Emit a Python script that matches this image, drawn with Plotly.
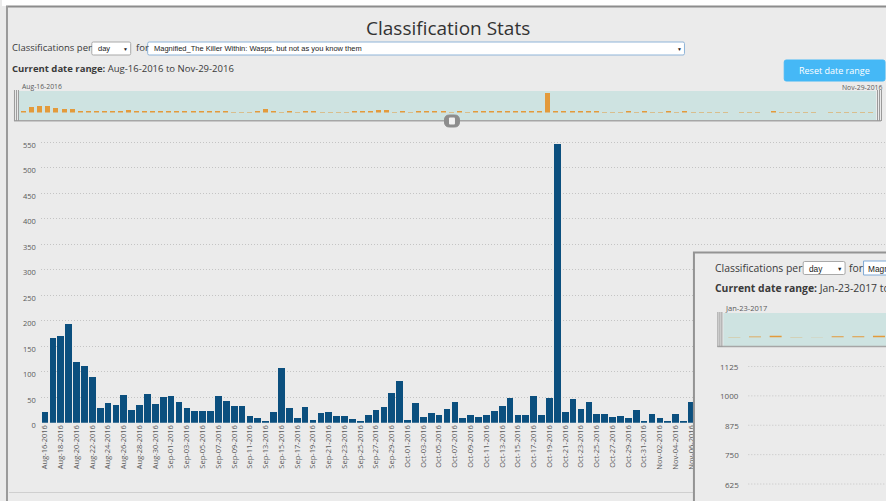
import pandas as pd
import plotly.graph_objects as go

W, H = 886, 501          # reference picture size (layout coordinates below)
FIG_H = 509              # page height that ends up shown as 501 px

# ---------------- data ----------------
start_date = "2016-08-16"
end_date = "2016-11-29"
dates = pd.date_range(start_date, end_date, freq="D")
counts = [
    21, 167, 171, 193, 120, 111, 90, 29, 39, 34, 54, 26, 35, 57, 36, 51,          # Aug 16-31
    53, 40, 29, 24, 24, 24, 53, 42, 32, 33, 13, 10, 4, 22, 108, 29, 9, 31, 6, 20,   # Sep 01-20
    21, 14, 14, 8, 3, 16, 25, 30, 59, 81,                                         # Sep 21-30
    6, 39, 12, 20, 16, 27, 40, 10, 15, 11, 15, 23, 32, 49, 15, 16, 53, 16, 48,     # Oct 01-19
    546, 22, 46, 27, 40, 17, 17, 11, 14, 10, 25, 4,                               # Oct 20-31
    17, 10, 4, 18, 3, 40, 8, 12, 6, 9, 5, 0, 7, 10, 11, 0, 22, 14, 6, 9, 8, 5,    # Nov 01-22
    0, 7, 6, 4, 2, 2, 3,                                                          # Nov 23-29
]
y_ticks = list(range(0, 551, 50))

# overlapping second panel (another project's stats)
overlay_ticks = [625, 750, 875, 1000, 1125]
overlay_dates = pd.date_range("2017-01-23", periods=8, freq="D")
overlay_counts = [2, 3, 6, 2, 1, 4, 4, 6]

title_text = "Classification Stats"
per_label = "Classifications per"
period_choice = "day"
project_choice = "Magnified_The Killer Within: Wasps, but not as you know them"
range_text = "<b>Current date range:</b> Aug-16-2016 to Nov-29-2016"
reset_label = "Reset date range"
nav_left_label = "Aug-16-2016"
nav_right_label = "Nov-29-2016"
ov_range_text = "<b>Current date range:</b> Jan-23-2017 to"
ov_nav_label = "Jan-23-2017"

# ---------------- style ----------------
BG = "#ebebeb"
BAR = "#0b4f7e"
ORANGE = "#e39a3b"
TEAL = "#cee3e1"
GRID = "#c4c4c4"
TXT = "#3a3a3a"
TICK = "#5a5a5a"
UI_FONT = "Open Sans"
DD_FONT = "Liberation Sans"
DOTS = "1px,2px"


def px(x):
    return x / W


def py(y):
    return 1 - y / H


def shift(base, days):
    return (pd.Timestamp(base) + pd.Timedelta(days=days)).strftime("%Y-%m-%d %H:%M:%S")


def rounded_path(x0, y0, x1, y1, r):
    """Rounded rectangle path in paper units (pixel inputs)."""
    pts = [
        f"M{px(x0 + r)},{py(y0)}", f"L{px(x1 - r)},{py(y0)}",
        f"Q{px(x1)},{py(y0)} {px(x1)},{py(y0 + r)}", f"L{px(x1)},{py(y1 - r)}",
        f"Q{px(x1)},{py(y1)} {px(x1 - r)},{py(y1)}", f"L{px(x0 + r)},{py(y1)}",
        f"Q{px(x0)},{py(y1)} {px(x0)},{py(y1 - r)}", f"L{px(x0)},{py(y0 + r)}",
        f"Q{px(x0)},{py(y0)} {px(x0 + r)},{py(y0)}", "Z",
    ]
    return " ".join(pts)


DAY_MS = 86400000

fig = go.Figure()
fig.add_trace(go.Bar(x=dates, y=counts, xaxis="x", yaxis="y",
                     marker=dict(color=BAR, line=dict(width=0)),
                     width=0.85 * DAY_MS, hoverinfo="x+y"))
fig.add_trace(go.Bar(x=dates, y=counts, xaxis="x3", yaxis="y3",
                     marker=dict(color=ORANGE, line=dict(width=0)),
                     width=0.62 * DAY_MS, hoverinfo="skip"))

shapes = []
annotations = []


def rect(x0, y0, x1, y1, fill, line=None, lw=0, layer="below"):
    shapes.append(dict(type="rect", xref="paper", yref="paper",
                       x0=px(x0), x1=px(x1), y0=py(y1), y1=py(y0),
                       fillcolor=fill, layer=layer,
                       line=dict(color=line or fill, width=lw)))


def rrect(x0, y0, x1, y1, r, fill, line=None, lw=0, layer="below"):
    shapes.append(dict(type="path", xref="paper", yref="paper",
                       path=rounded_path(x0, y0, x1, y1, r),
                       fillcolor=fill, layer=layer,
                       line=dict(color=line or fill, width=lw)))


def hline(x0, x1, y, color, lw=1, dash="solid", layer="below"):
    shapes.append(dict(type="line", xref="paper", yref="paper",
                       x0=px(x0), x1=px(x1), y0=py(y), y1=py(y), layer=layer,
                       line=dict(color=color, width=lw, dash=dash)))


def vline(x, y0, y1, color, lw=1, layer="below"):
    shapes.append(dict(type="line", xref="paper", yref="paper",
                       x0=px(x), x1=px(x), y0=py(y0), y1=py(y1), layer=layer,
                       line=dict(color=color, width=lw)))


def text(x, y, s, size, color=TXT, anchor="left", family=UI_FONT):
    annotations.append(dict(x=px(x), y=py(y), xref="paper", yref="paper", text=s,
                            showarrow=False, xanchor=anchor, yanchor="middle",
                            font=dict(size=size, color=color, family=family)))


# page frame
rect(0, 0, W, 6, "#ffffff")
hline(4, W, 6.5, "#8c8c8c", 2)
vline(5, 6, H + 5, "#9a9a9a", 2)
hline(7, W, 492.5, "#cfcfcf", 1)

# header controls
text(447, 28, title_text, 19, "#333333", "center")
text(8, 48, per_label, 9.5)
rrect(90, 42, 129, 55, 1.5, "#ffffff", "#a9a9a9", 1)
text(94, 48.5, period_choice, 7.5, "#222222", family=DD_FONT)
text(124, 48.5, "▼", 5, "#222222", "center", DD_FONT)
text(132, 48, "for", 9.5)
rrect(146, 42, 684, 55, 1.5, "#ffffff", "#8fb4d8", 1)
text(150, 48.5, project_choice, 7.5, "#222222", family=DD_FONT)
text(679, 48.5, "▼", 5, "#222222", "center", DD_FONT)
text(8, 68, range_text, 9.5)
rrect(784, 60, 885, 81, 2, "#45b8f6", "#45b8f6", 1)
text(834.5, 70.5, reset_label, 9, "#ffffff", "center")

# navigator frame
text(18, 86.5, nav_left_label, 6.8, TICK)
text(884, 87, nav_right_label, 6.8, TICK, "right")
rect(17, 91, 876, 120, TEAL)
hline(12, 881, 120.8, "#a6a6a6", 1.5)
for xx in (12.5, 14.5, 16.5):
    vline(xx, 90, 121, "#9a9a9a", 1)
for xx in (877.5, 879.5, 881.5):
    vline(xx, 90, 121, "#9a9a9a", 1)
rrect(443.5, 115, 458.5, 127, 5, "#8d8d8d", "#8d8d8d", 1, layer="above")
rrect(448, 117.5, 454, 124.5, 1, "#f2f2f2", "#f2f2f2", 0, layer="above")

# ---------------- overlapping second panel ----------------
OX, OY = 693.5, 252.5
shapes.append(dict(type="rect", xref="paper", yref="paper", layer="above",
                   x0=px(OX), x1=px(W + 10), y0=py(H + 10), y1=py(OY),
                   fillcolor=BG, line=dict(color="#939393", width=2)))
# overlay navigator
shapes.append(dict(type="rect", xref="paper", yref="paper", layer="above",
                   x0=px(723), x1=px(W + 5), y0=py(346), y1=py(313),
                   fillcolor=TEAL, line=dict(width=0)))
shapes.append(dict(type="line", xref="paper", yref="paper", layer="above",
                   x0=px(717), x1=px(W + 5), y0=py(346.5), y1=py(346.5),
                   line=dict(color="#a6a6a6", width=1.5)))
for xx in (717.5, 719.5, 721.5):
    shapes.append(dict(type="line", xref="paper", yref="paper", layer="above",
                       x0=px(xx), x1=px(xx), y0=py(347), y1=py(312),
                       line=dict(color="#9a9a9a", width=1)))
for d, v in zip(overlay_dates, overlay_counts):
    shapes.append(dict(type="rect", xref="x4", yref="y4", layer="above",
                       x0=shift(d, -0.29), x1=shift(d, 0.29), y0=0, y1=v,
                       fillcolor=ORANGE, line=dict(width=0)))
# overlay gridlines + labels on its own value axis
for t in overlay_ticks:
    shapes.append(dict(type="line", xref="paper", yref="y2", layer="above",
                       x0=px(748), x1=1, y0=t, y1=t,
                       line=dict(color=GRID, width=1, dash=DOTS)))
    annotations.append(dict(x=px(741), y=t, xref="paper", yref="y2", text=str(t),
                            showarrow=False, xanchor="right", yanchor="middle",
                            font=dict(size=8, color=TICK, family=UI_FONT)))
# overlay controls
shapes.append(dict(type="path", xref="paper", yref="paper", layer="above",
                   path=rounded_path(803, 261.5, 845, 274.5, 1.5),
                   fillcolor="#ffffff", line=dict(color="#a9a9a9", width=1)))
shapes.append(dict(type="rect", xref="paper", yref="paper", layer="above",
                   x0=px(863.5), x1=px(W + 10), y0=py(275), y1=py(261),
                   fillcolor="#ffffff", line=dict(color="#7fa9d6", width=1)))
text(713, 268, per_label, 10.4)
text(807, 268.5, period_choice, 8.3, "#222222", family=DD_FONT)
text(839, 268.5, "▼", 5.5, "#222222", "center", DD_FONT)
text(847, 268, "for", 10.4)
text(866, 268.5, project_choice, 8.3, "#222222", family=DD_FONT)
text(713, 287.5, ov_range_text, 10.4)
text(723, 308, ov_nav_label, 7.5, TICK)

fig.update_layout(
    width=W, height=FIG_H,
    margin=dict(l=0, r=0, t=0, b=0),
    paper_bgcolor=BG, plot_bgcolor="rgba(0,0,0,0)",
    showlegend=False, bargap=0,
    font=dict(family=UI_FONT, color=TXT),
    shapes=shapes, annotations=annotations,
    xaxis=dict(type="date", domain=[px(39), 1], anchor="y",
               range=[shift(start_date, -0.506), shift(start_date, 106.7)],
               tick0=start_date, dtick=2 * DAY_MS, tickformat="%b-%d-%Y",
               tickangle=-90, tickfont=dict(size=7.5, color=TICK),
               showgrid=False, zeroline=False, showline=False, ticks=""),
    yaxis=dict(domain=[py(422.7), py(136.9)], anchor="x", range=[0, 560],
               tickvals=y_ticks, tickfont=dict(size=7.5, color=TICK),
               showgrid=True, gridcolor=GRID, gridwidth=1, griddash=DOTS,
               zeroline=False, showline=False, ticks="",
               ticklabelstandoff=4, ticklabelshift=3),
    xaxis3=dict(type="date", domain=[px(17), px(876)], anchor="y3",
                range=[shift(start_date, -0.58), shift(start_date, 105.7)],
                visible=False),
    yaxis3=dict(domain=[py(112.5), py(91)], anchor="x3", range=[0, 602],
                visible=False),
    xaxis2=dict(domain=[px(748), 1], anchor="y2", range=[0, 1], visible=False),
    yaxis2=dict(domain=[0, py(350)], anchor="x2", range=[552.7, 1195.2],
                visible=False),
    xaxis4=dict(type="date", domain=[px(723), 1], anchor="y4",
                range=[shift(overlay_dates[0], -0.53), shift(overlay_dates[0], 7.34)],
                visible=False),
    yaxis4=dict(domain=[py(337.5), py(313)], anchor="x4", range=[0, 82],
                visible=False),
)

fig.write_html("out.html",
               config={"displayModeBar": False},
               post_script="document.body.style.margin='0';"
                           "document.body.style.overflow='hidden';")
